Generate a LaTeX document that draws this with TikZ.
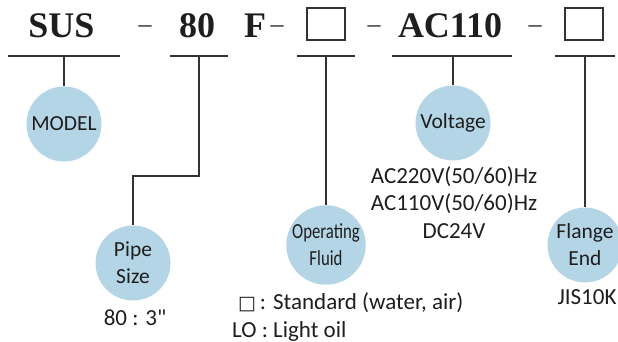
\documentclass[tikz,border=0pt]{standalone}
\usepackage{fontspec}
\setmainfont{Carlito}
\newfontfamily\plainfont{Carlito}[Ligatures=ResetAll]
\newfontfamily\hdrfont{Liberation Serif}
\newfontfamily\symfont{DejaVu Sans}
\definecolor{circ}{RGB}{180,213,230}
\definecolor{ink}{RGB}{50,50,50}
\definecolor{txt}{RGB}{30,30,30}
\begin{document}
\begin{tikzpicture}[x=1pt,y=-1pt,
  hdr/.style={font=\hdrfont\bfseries\fontsize{36}{36}\selectfont, anchor=base, inner sep=0, text=txt},
  dashmark/.style={font=\hdrfont\fontsize{26}{26}\selectfont, anchor=base, inner sep=0, text=txt},
  rule/.style={draw=ink, line width=1.4pt},
  conn/.style={draw=ink, line width=1.4pt},
  codebox/.style={draw=ink, line width=1.3pt, minimum width=38pt, minimum height=32pt, inner sep=0},
  lbl/.style={circle, fill=circ, minimum size=75pt, inner sep=0, font=\fontsize{21.5}{27}\selectfont, align=center, text=txt},
  note/.style={font=\fontsize{23}{27.5}\selectfont, anchor=base, inner sep=0, align=center, text=txt}]
\useasboundingbox (0,0) rectangle (618,342);
% header code
\node[hdr] (sus) at (61.5,38) {SUS};
\node[dashmark] (d1) at (145,33) {–};
\node[hdr] (n80) at (197,38) {80};
\node[hdr] (f) at (255,38) {F};
\node[dashmark] (d2) at (277,33) {–};
\node[codebox] (b1) at (326,24) {};
\node[dashmark] (d3) at (374,33) {–};
\node[hdr] (ac) at (450,38) {AC110};
\node[dashmark] (d4) at (535,33) {–};
\node[codebox] (b2) at (584,24) {};
% underlines
\coordinate (u1a) at (8,56); \coordinate (u1b) at (120,56);
\coordinate (u2a) at (170,56); \coordinate (u2b) at (228,56);
\coordinate (u3a) at (297,56); \coordinate (u3b) at (355,56);
\coordinate (u4a) at (392,56); \coordinate (u4b) at (512,56);
\coordinate (u5a) at (555,56); \coordinate (u5b) at (615,56);
\draw[rule] (u1a) -- (u1b);
\draw[rule] (u2a) -- (u2b);
\draw[rule] (u3a) -- (u3b);
\draw[rule] (u4a) -- (u4b);
\draw[rule] (u5a) -- (u5b);
\coordinate (c1) at (64,56);
\coordinate (c2) at (199,56);
\coordinate (c3) at (326,56);
\coordinate (c4) at (453,56);
\coordinate (c5) at (585,56);
\coordinate (k2) at (199,176);
% circles
\node[lbl] (model) at (64,124) {MODEL};
\node[lbl] (pipe) at (133,263) {Pipe\\Size};
\node[lbl] (fluid) at (326,245) {\scalebox{0.78}[1]{Operating}\\\scalebox{0.78}[1]{Fluid}};
\node[lbl] (volt) at (453,123) {Voltage};
\node[lbl] (flange) at (585,245) {Flange\\End};
% connectors
\draw[conn] (c1) -- (model.north);
\draw[conn] (c2) -- (k2) -| (pipe.north);
\draw[conn] (c3) -- (fluid.north);
\draw[conn] (c4) -- (volt.north);
\draw[conn] (c5) -- (flange.north);
% notes
\node[note] (pipenote) at (135,325) {80 : 3{\plainfont "}};
\node[note, anchor=base west] (fl1) at (238,309) {{\symfont\fontsize{19}{19}\selectfont □}\,: Standard (water, air)};
\node[note, anchor=base west] (fl2) at (232,337) {LO : Light oil};
\node[note] (v1) at (454,183) {AC220V(50/60)Hz};
\node[note] (v2) at (454,210.5) {AC110V(50/60)Hz};
\node[note] (v3) at (454,238) {DC24V};
\node[note] (jis) at (587,304) {JIS10K};
\end{tikzpicture}
\end{document}
